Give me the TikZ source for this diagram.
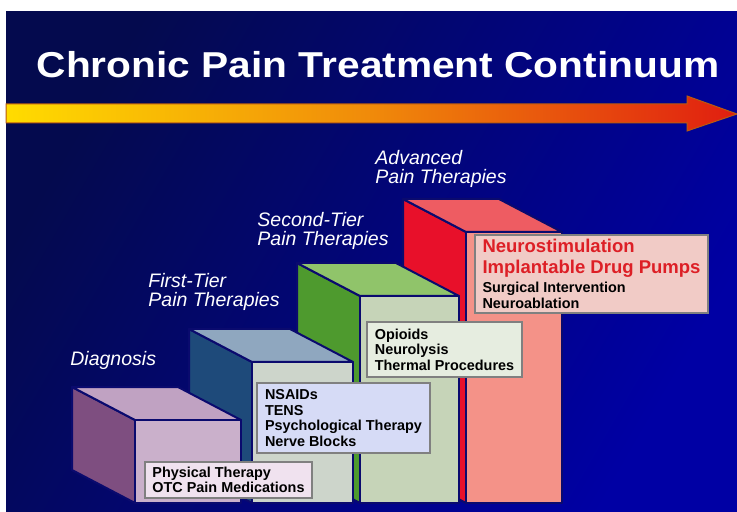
\documentclass[tikz,border=0pt]{standalone}
\usepackage{fontspec}
\setmainfont{Liberation Sans}
\usepackage{xcolor}
\usepackage{tikz}

\definecolor{bgdark}{HTML}{040A4E}
\definecolor{bglight}{HTML}{0000A4}
\definecolor{edgeblue}{HTML}{0A0A6E}
\definecolor{arrowyellow}{HTML}{FFDC00}
\definecolor{arroworange}{HTML}{F08A0A}
\definecolor{arrowred}{HTML}{E01E10}
\definecolor{arrowedge}{HTML}{B85A10}
\definecolor{diagside}{HTML}{7E4E80}
\definecolor{diagtop}{HTML}{C0A2C2}
\definecolor{diagfront}{HTML}{CAB0CB}
\definecolor{firstside}{HTML}{1E4A7A}
\definecolor{firsttop}{HTML}{8FA7BF}
\definecolor{firstfront}{HTML}{CDD5CB}
\definecolor{secondside}{HTML}{4E9A2E}
\definecolor{secondtop}{HTML}{90C46A}
\definecolor{secondfront}{HTML}{C6D4B8}
\definecolor{advside}{HTML}{E8102A}
\definecolor{advtop}{HTML}{EE5C62}
\definecolor{advfront}{HTML}{F49288}
\definecolor{diagfill}{HTML}{F0E2EF}
\definecolor{firstfill}{HTML}{D6DBF6}
\definecolor{secondfill}{HTML}{E6EDE0}
\definecolor{advfill}{HTML}{F1CBC6}
\definecolor{advred}{HTML}{DD1F26}

\begin{document}
\begin{tikzpicture}[
  x=0.5pt, y=-0.5pt,
  face/.style={draw=edgeblue, line width=1pt, line join=round},
  tierlabel/.style={anchor=west, inner sep=0pt, align=left, text=white,
    font=\fontsize{9.75}{9.6}\selectfont\itshape},
  listbox/.style={draw=gray, line width=0.6pt, anchor=north west,
    inner sep=0pt, outer sep=0pt, align=left,
    font=\fontsize{7.2}{7.8}\selectfont\bfseries},
]
\useasboundingbox (0,0) rectangle (737,512);
\fill[white] (0,0) rectangle (737,512);

% ── Background and title ────────────────────────────────────────────────────
\shade[left color=bgdark, right color=bglight, shading angle=60]
  (6,12) rectangle (737,512);
\node[anchor=base, inner sep=0pt, text=white,
  font=\fontsize{18}{20}\selectfont\bfseries] (title) at (378,78)
  {\scalebox{1.13}[1]{Chronic Pain Treatment Continuum}};

% ── Continuum arrow ─────────────────────────────────────────────────────────
\shadedraw[draw=arrowedge, line width=0.5pt,
  left color=arrowyellow, right color=arrowred, middle color=arroworange]
  (6,104) -- (687,104) -- (687,96) -- (737,114) -- (687,131) -- (687,123)
  -- (6,123) -- cycle;

% ── Advanced block (back) ───────────────────────────────────────────────────
\filldraw[face, fill=advside]  (466,232) -- (403,199) -- (403,470) -- (466,503) -- cycle;
\filldraw[face, fill=advtop]   (466,232) -- (403,199) -- (499,199) -- (562,232) -- cycle;
\filldraw[face, fill=advfront] (466,232) rectangle (562,503);

% ── Second-tier block ───────────────────────────────────────────────────────
\filldraw[face, fill=secondside]  (360,296) -- (297,263) -- (297,470) -- (360,503) -- cycle;
\filldraw[face, fill=secondtop]   (360,296) -- (297,263) -- (396,263) -- (459,296) -- cycle;
\filldraw[face, fill=secondfront] (360,296) rectangle (459,503);

% ── First-tier block ────────────────────────────────────────────────────────
\filldraw[face, fill=firstside]  (252,362) -- (189,329) -- (189,470) -- (252,503) -- cycle;
\filldraw[face, fill=firsttop]   (252,362) -- (189,329) -- (290,329) -- (353,362) -- cycle;
\filldraw[face, fill=firstfront] (252,362) rectangle (353,503);

% ── Diagnosis block (front) ─────────────────────────────────────────────────
\filldraw[face, fill=diagside]  (135,420) -- (72,387) -- (72,470) -- (135,503) -- cycle;
\filldraw[face, fill=diagtop]   (135,420) -- (72,387) -- (178,387) -- (241,420) -- cycle;
\filldraw[face, fill=diagfront] (135,420) rectangle (241,503);

% ── Tier labels ─────────────────────────────────────────────────────────────
\node[tierlabel] (diag)   at (70,360)  {Diagnosis};
\node[tierlabel] (first)  at (148,292) {First-Tier\\Pain Therapies};
\node[tierlabel] (second) at (257,231) {Second-Tier\\Pain Therapies};
\node[tierlabel] (adv)    at (375,169) {Advanced\\Pain Therapies};

% ── Treatment lists ─────────────────────────────────────────────────────────
\node[listbox, fill=diagfill, minimum width=83.5pt, minimum height=18pt]
  (diaglist) at (145,462) {Physical Therapy\\OTC Pain Medications};
\node[listbox, fill=firstfill, minimum width=86.5pt, minimum height=35pt]
  (firstlist) at (257,383) {NSAIDs\\TENS\\Psychological Therapy\\Nerve Blocks};
\node[listbox, fill=secondfill, minimum width=77.5pt, minimum height=27.5pt]
  (secondlist) at (367,322) {Opioids\\Neurolysis\\Thermal Procedures};
\node[listbox, fill=advfill, minimum width=116.5pt, minimum height=39pt]
  (advlist) at (475,235)
  {\textcolor{advred}{\fontsize{9.25}{11}\selectfont Neurostimulation}\\[2.5pt]
   \textcolor{advred}{\fontsize{9.25}{11}\selectfont Implantable Drug Pumps}\\[2pt]
   Surgical Intervention\\Neuroablation};

\end{tikzpicture}
\end{document}
